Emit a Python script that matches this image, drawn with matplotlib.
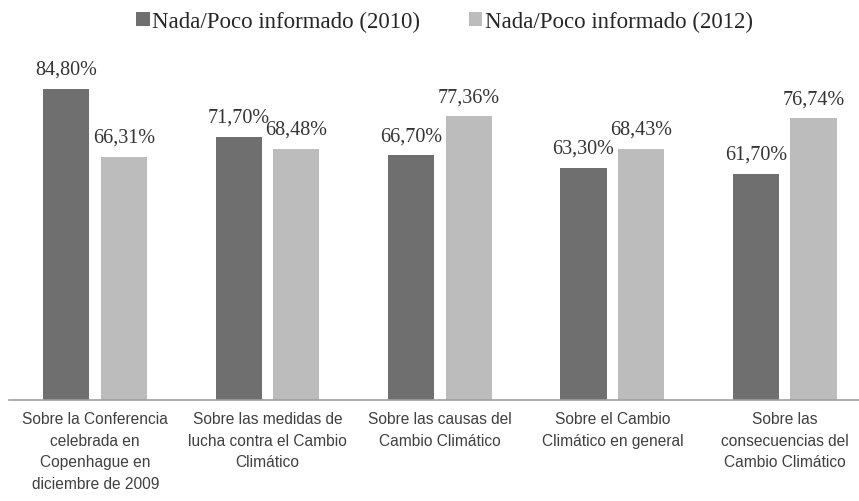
import matplotlib.pyplot as plt
import numpy as np

categories = ["Sobre la Conferencia\ncelebrada en\nCopenhague en\ndiciembre de 2009",
              "Sobre las medidas de\nlucha contra el Cambio\nClimático",
              "Sobre las causas del\nCambio Climático",
              "Sobre el Cambio\nClimático en general",
              "Sobre las\nconsecuencias del\nCambio Climático"]
vals_2010 = [84.80, 71.70, 66.70, 63.30, 61.70]
vals_2012 = [66.31, 68.48, 77.36, 68.43, 76.74]
labels_2010 = ["84,80%", "71,70%", "66,70%", "63,30%", "61,70%"]
labels_2012 = ["66,31%", "68,48%", "77,36%", "68,43%", "76,74%"]

dark = "#6f6f6f"
light = "#bcbcbc"
serif = "Liberation Serif"
sans = "Liberation Sans"

fig = plt.figure(figsize=(8.59, 5.02), dpi=100)
ax = fig.add_axes([9 / 859, 101 / 502, 1 - 9 / 859, 361 / 502])

x = np.arange(len(categories))
w = 0.267
b1 = ax.bar(x - 0.168, vals_2010, width=w, color=dark, label="Nada/Poco informado (2010)")
b2 = ax.bar(x + 0.166, vals_2012, width=w, color=light, label="Nada/Poco informado (2012)")

for bars, labs in [(b1, labels_2010), (b2, labels_2012)]:
    for r, t in zip(bars, labs):
        ax.annotate(t, (r.get_x() + r.get_width() / 2, r.get_height()),
                    xytext=(0, 14), textcoords="offset points",
                    ha="center", va="center", fontsize=14.5,
                    family=serif, color="#333333")

ax.set_xlim(-0.5, 4.43)
ax.set_ylim(0, 98.4)
ax.set_yticks([])
ax.set_xticks(x)
ax.set_xticklabels(categories, family=sans, fontsize=11.2, color="#404040",
                   linespacing=1.55)
ax.tick_params(axis="x", length=0, pad=8)
for s in ["top", "right", "left"]:
    ax.spines[s].set_visible(False)
ax.spines["bottom"].set_color("#a0a0a0")
ax.spines["bottom"].set_linewidth(1.2)

fig.legend(loc="upper center", bbox_to_anchor=(0.5175, 1.018), ncol=2, frameon=False,
           prop={"family": serif, "size": 16.5}, handlelength=0.58, handleheight=0.58,
           handletextpad=0.12, columnspacing=2.1, labelcolor="#262626")

fig.savefig("out.png", dpi=100)
